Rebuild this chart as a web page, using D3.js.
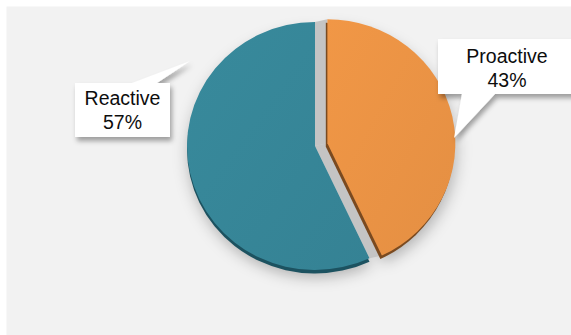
<!DOCTYPE html>
<html>
<head>
<meta charset="utf-8">
<script src="https://cdn.jsdelivr.net/npm/d3@7"></script>
<style>
  html, body { margin: 0; padding: 0; background: #ffffff; }
  svg { display: block; }
</style>
</head>
<body>
<div id="chart"></div>
<script>
// chart data
const categories = [ "Proactive", "Reactive" ];
const shares = [ 43, 57 ];
const colors = [ "#ec9445", "#378799" ];
const edgeColors = [ "#7a4a20", "#1c5260" ];

const width = 571, height = 335;
const cx = 315, cy = 146, radius = 124, stretch = 1.032;
const explode = [ 12.3, 0 ];

const svg = d3.select( "#chart" ).append( "svg" )
  .attr( "width", width )
  .attr( "height", height );

const defs = svg.append( "defs" );

const blur = defs.append( "filter" ).attr( "id", "pieShadow" )
  .attr( "x", "-30%" ).attr( "y", "-30%" ).attr( "width", "160%" ).attr( "height", "160%" );
blur.append( "feGaussianBlur" ).attr( "stdDeviation", 7 );

const boxShadow = defs.append( "filter" ).attr( "id", "boxShadow" )
  .attr( "x", "-20%" ).attr( "y", "-20%" ).attr( "width", "150%" ).attr( "height", "160%" );
boxShadow.append( "feDropShadow" )
  .attr( "dx", 2 ).attr( "dy", 4 )
  .attr( "stdDeviation", 2.5 )
  .attr( "flood-color", "#000" )
  .attr( "flood-opacity", 0.35 );

["0", "1"].forEach( i => {
  const g = defs.append( "linearGradient" ).attr( "id", "grad" + i )
    .attr( "x1", "0%" ).attr( "y1", "0%" ).attr( "x2", "100%" ).attr( "y2", "100%" );
  const c = d3.color( colors[ +i ] );
  g.append( "stop" ).attr( "offset", "0%" ).attr( "stop-color", c.brighter( 0.06 ) );
  g.append( "stop" ).attr( "offset", "100%" ).attr( "stop-color", c.darker( 0.1 ) );
} );

// panel background
svg.append( "rect" )
  .attr( "x", 6.5 ).attr( "y", 6.5 )
  .attr( "width", width ).attr( "height", height )
  .attr( "fill", "#f2f2f2" );

const pie = d3.pie().sort( null ).value( d => d );
const arcs = pie( shares );
const arc = d3.arc().innerRadius( 0 ).outerRadius( radius );

const offsetOf = ( d, i ) => {
  const mid = ( d.startAngle + d.endAngle ) / 2;
  return [ Math.sin( mid ) * explode[ i ], -Math.cos( mid ) * explode[ i ] ];
};

const pieG = svg.append( "g" )
  .attr( "transform", "translate(" + cx + "," + cy + ") scale(" + stretch + ",1)" );

// soft shadow under the pie
pieG.append( "g" )
  .attr( "filter", "url(#pieShadow)" )
  .selectAll( "path" )
  .data( arcs )
  .enter().append( "path" )
    .attr( "d", arc )
    .attr( "fill", "rgba(0,0,0,0.26)" )
    .attr( "transform", ( d, i ) => {
      const o = offsetOf( d, i );
      return "translate(" + ( o[ 0 ] + 1 ) + "," + ( o[ 1 ] + 8 ) + ")";
    } );

// gray filling of the gaps between exploded slices
const o0 = offsetOf( arcs[ 0 ], 0 ), o1 = offsetOf( arcs[ 1 ], 1 );
[ arcs[ 0 ].startAngle, arcs[ 0 ].endAngle ].forEach( a => {
  const ux = Math.sin( a ) * radius, uy = -Math.cos( a ) * radius;
  pieG.append( "path" )
    .attr( "d", d3.line()( [
      [ o1[ 0 ], o1[ 1 ] ],
      [ o1[ 0 ] + ux, o1[ 1 ] + uy ],
      [ o0[ 0 ] + ux, o0[ 1 ] + uy ],
      [ o0[ 0 ], o0[ 1 ] ]
    ] ) + "Z" )
    .attr( "fill", "#c4c4c4" );
} );

// dark 3D rim under each slice
pieG.selectAll( "path.rim" )
  .data( arcs )
  .enter().append( "path" )
    .attr( "class", "rim" )
    .attr( "d", arc )
    .attr( "fill", ( d, i ) => edgeColors[ i ] )
    .attr( "transform", ( d, i ) => {
      const o = offsetOf( d, i );
      return "translate(" + ( o[ 0 ] - ( i === 0 ? 1.5 : 0 ) ) + "," + ( o[ 1 ] + 3.5 ) + ")";
    } );

pieG.selectAll( "path.slice" )
  .data( arcs )
  .enter().append( "path" )
    .attr( "class", "slice" )
    .attr( "d", arc )
    .attr( "fill", ( d, i ) => "url(#grad" + i + ")" )
    .attr( "transform", ( d, i ) => "translate(" + offsetOf( d, i ) + ")" );

// callout labels
const callouts = [
  { box: [ 438, 39, 150, 55 ], pointer: [ [ 462, 94 ], [ 454, 138 ], [ 495, 94 ] ], tx: 507, ty: 63 },
  { box: [ 75, 83, 95, 54 ], pointer: [ [ 132, 83 ], [ 190, 61 ], [ 157, 83 ] ], tx: 122.5, ty: 105 }
];

callouts.forEach( ( c, i ) => {
  const b = c.box;
  const g = svg.append( "g" ).attr( "filter", "url(#boxShadow)" );
  g.append( "rect" )
    .attr( "x", b[ 0 ] ).attr( "y", b[ 1 ] )
    .attr( "width", b[ 2 ] ).attr( "height", b[ 3 ] )
    .attr( "fill", "#ffffff" );
  g.append( "path" )
    .attr( "d", d3.line()( c.pointer ) + "Z" )
    .attr( "fill", "#ffffff" );

  const t = svg.append( "text" )
    .attr( "x", c.tx ).attr( "y", c.ty )
    .attr( "text-anchor", "middle" )
    .style( "font-family", "Liberation Sans, Arial, sans-serif" )
    .style( "font-size", "19.5px" )
    .attr( "fill", "#0d0d0d" );
  t.append( "tspan" ).attr( "x", c.tx ).text( categories[ i ] );
  t.append( "tspan" ).attr( "x", c.tx ).attr( "dy", 23.5 ).text( shares[ i ] + "%" );
} );
</script>
</body>
</html>
